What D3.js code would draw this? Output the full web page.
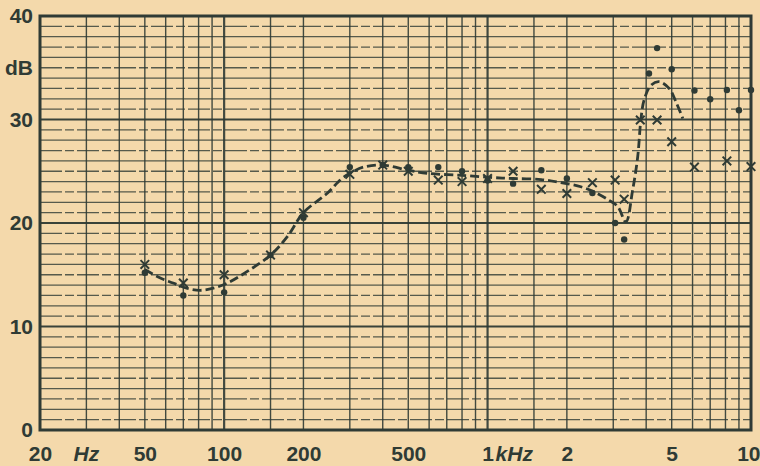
<!DOCTYPE html>
<html>
<head>
<meta charset="utf-8">
<script src="https://cdn.jsdelivr.net/npm/d3@7"></script>
<style>
  body { margin: 0; background: #f4d9ab; }
  svg { display: block; }
</style>
</head>
<body>
<div id="chart"></div>
<script>
// Frequency response measurement: two runs (dots / crosses) plus the hand-drawn mean curve
const dotFreq = [50, 70, 100, 150, 200, 300, 400, 500, 650, 800, 1000, 1250, 1600, 2000, 2500, 3050, 3300, 4100, 4400, 5000, 6100, 7000, 8100, 9000, 10000]
const dotDb = [15.2, 13.0, 13.3, 16.9, 20.5, 25.4, 25.6, 25.4, 25.4, 25.0, 24.1, 23.8, 25.1, 24.3, 22.9, 20.0, 18.4, 34.45, 36.9, 34.85, 32.8, 31.95, 32.85, 30.9, 32.85]

const crossFreq = [50, 70, 100, 150, 200, 300, 400, 500, 650, 800, 1000, 1250, 1600, 2000, 2500, 3050, 3300, 3800, 4400, 5000, 6100, 8100, 10000]
const crossDb = [16.0, 14.2, 15.0, 16.9, 21.0, 24.7, 25.6, 25.0, 24.15, 24.0, 24.3, 25.0, 23.25, 22.85, 23.9, 24.15, 22.3, 29.95, 29.95, 27.85, 25.4, 26.0, 25.45]

// dashed mean curve
const curveFreq = [50, 57, 64, 72, 81, 91, 103, 122, 150, 174, 200, 247, 277, 300, 338, 400, 500, 590, 800, 1030, 1250, 1600, 1900, 2260, 2540, 2890, 3120, 3350, 3555, 3715, 3820, 3930, 4170, 4480, 4890, 5190, 5510]
const curveDb = [15.5, 14.7, 14.2, 13.7, 13.5, 13.7, 14.2, 15.3, 16.9, 18.7, 21.0, 22.9, 24.2, 24.8, 25.4, 25.6, 25.1, 24.8, 24.6, 24.4, 24.3, 24.2, 23.9, 23.5, 23.0, 22.2, 21.6, 20.1, 23.2, 26.4, 30.0, 31.9, 33.3, 33.65, 33.0, 31.7, 30.1]

// grid of the log paper and the printed labels
const gridFreq = [20, 30, 40, 50, 60, 70, 80, 90, 100, 150, 200, 300, 400, 500, 600, 700, 800, 900, 1000, 1500, 2000, 3000, 4000, 5000, 6000, 7000, 8000, 9000, 10000]
const majorFreq = [100, 1000]
const xTicks = [20, 50, 100, 200, 500, 1000, 2000, 5000, 10000]
const xTickLabels = ['20', '50', '100', '200', '500', '1', '2', '5', '10']
const yTicks = [0, 10, 20, 30, 40]

const INK = '#2f3b35'
const FONT = '"Liberation Sans", Arial, sans-serif'
const width = 760
const height = 466
const MARGIN = { top: 16, right: 9, bottom: 36, left: 40 }
const innerWidth = width - MARGIN.left - MARGIN.right
const innerHeight = height - MARGIN.top - MARGIN.bottom

const svg = d3.select('#chart').append('svg')
  .attr('width', width)
  .attr('height', height)

svg.append('rect')
  .attr('width', width)
  .attr('height', height)
  .attr('fill', '#f4d9ab')

const g = svg.append('g')
  .attr('transform', `translate(${MARGIN.left},${MARGIN.top})`)

// --- SCALES ---
const x = d3.scaleLog().domain([20, 10000]).range([0, innerWidth])
const y = d3.scaleLinear().domain([0, 40]).range([innerHeight, 0])

// --- GRID ---
// 1 dB lines, every 10 dB heavier; odd lines printed a little broken
g.selectAll('.hgrid')
  .data(d3.range(1, 40))
  .enter().append('line')
  .attr('class', 'hgrid')
  .attr('x1', 0)
  .attr('x2', innerWidth)
  .attr('y1', d => y(d))
  .attr('y2', d => y(d))
  .style('stroke', INK)
  .style('stroke-width', d => d % 10 === 0 ? 2.2 : 1.3)
  .style('stroke-dasharray', d => d % 2 === 1 ? '22 3 9 3' : null)
  .style('opacity', d => d % 10 === 0 ? 0.95 : 0.8)

g.selectAll('.vgrid')
  .data(gridFreq)
  .enter().append('line')
  .attr('class', 'vgrid')
  .attr('x1', d => x(d))
  .attr('x2', d => x(d))
  .attr('y1', 0)
  .attr('y2', innerHeight)
  .style('stroke', INK)
  .style('stroke-width', d => majorFreq.includes(d) ? 2.2 : 1.4)
  .style('opacity', 0.9)

// frame
g.append('rect')
  .attr('width', innerWidth)
  .attr('height', innerHeight)
  .style('fill', 'none')
  .style('stroke', INK)
  .style('stroke-width', 3)

// --- AXES ---
const xAxis = g.append('g')
  .attr('transform', `translate(0,${innerHeight})`)
  .call(d3.axisBottom(x)
    .tickValues(xTicks)
    .tickSize(0)
    .tickPadding(16)
    .tickFormat((d, i) => xTickLabels[i]))

// the last label sits against the page edge, keep it inside
xAxis.selectAll('.tick text')
  .filter(d => d === 10000)
  .style('text-anchor', 'end')
  .attr('dx', 9)

const yAxis = g.append('g')
  .call(d3.axisLeft(y)
    .tickValues(yTicks)
    .tickSize(0)
    .tickPadding(7)
    .tickFormat(d3.format('d')))

for (const axis of [xAxis, yAxis]) {
  axis.select('.domain').remove()
  axis.selectAll('text')
    .style('font-family', FONT)
    .style('font-weight', 'bold')
    .style('font-size', '21px')
    .style('fill', INK)
}

// unit labels
const unitStyle = sel => sel
  .style('font-family', FONT)
  .style('font-weight', 'bold')
  .style('font-size', '21px')
  .style('fill', INK)

g.append('text')
  .attr('x', -7)
  .attr('y', y(35))
  .attr('dy', '0.35em')
  .style('text-anchor', 'end')
  .text('dB')
  .call(unitStyle)

g.append('text')
  .attr('x', x(30))
  .attr('y', innerHeight + 16)
  .attr('dy', '0.71em')
  .style('text-anchor', 'middle')
  .style('font-style', 'italic')
  .text('Hz')
  .call(unitStyle)

g.append('text')
  .attr('x', x(1000) + 8)
  .attr('y', innerHeight + 16)
  .attr('dy', '0.71em')
  .style('text-anchor', 'start')
  .style('font-style', 'italic')
  .text('kHz')
  .call(unitStyle)

// --- MEAN CURVE ---
const curveData = curveFreq.map((f, i) => [f, curveDb[i]])
const line = d3.line()
  .x(d => x(d[0]))
  .y(d => y(d[1]))
  .curve(d3.curveCatmullRom.alpha(0.5))

g.append('path')
  .datum(curveData)
  .attr('d', line)
  .style('fill', 'none')
  .style('stroke', INK)
  .style('stroke-width', 2.8)
  .style('stroke-dasharray', '9 4')

// --- MEASURED POINTS ---
g.selectAll('.dot')
  .data(dotFreq.map((f, i) => [f, dotDb[i]]))
  .enter().append('circle')
  .attr('class', 'dot')
  .attr('cx', d => x(d[0]))
  .attr('cy', d => y(d[1]))
  .attr('r', 3.2)
  .style('fill', INK)

const cross = d3.symbol().type(d3.symbolX).size(50)
g.selectAll('.cross')
  .data(crossFreq.map((f, i) => [f, crossDb[i]]))
  .enter().append('path')
  .attr('class', 'cross')
  .attr('transform', d => `translate(${x(d[0])},${y(d[1])})`)
  .attr('d', cross)
  .style('fill', 'none')
  .style('stroke', INK)
  .style('stroke-width', 2)
</script>
</body>
</html>
